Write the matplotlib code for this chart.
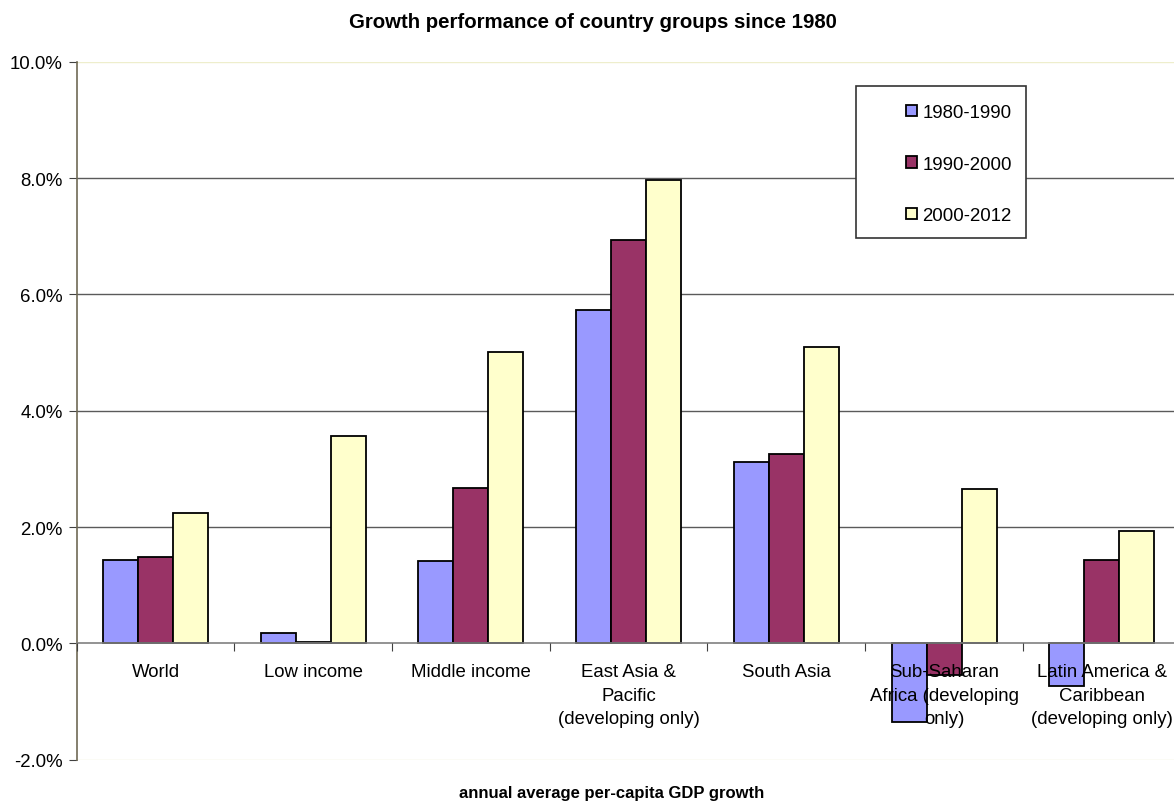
import numpy as np
import matplotlib.pyplot as plt
from matplotlib.patches import Rectangle

# Values (percent)
groups = ['World', 'Low income', 'Middle income',
          'East Asia &\nPacific\n(developing only)', 'South Asia',
          'Sub-Saharan\nAfrica (developing\nonly)',
          'Latin America &\nCaribbean\n(developing only)']
periods = ['1980-1990', '1990-2000', '2000-2012']
g_1980_1990 = [1.43, 0.17, 1.42, 5.73, 3.12, -1.35, -0.73]
g_1990_2000 = [1.48, 0.02, 2.67, 6.94, 3.26, -0.55, 1.43]
g_2000_2012 = [2.25, 3.57, 5.01, 7.97, 5.10, 2.65, 1.93]
colors = ['#9999FF', '#993366', '#FFFFCC']
yticks = [-2, 0, 2, 4, 6, 8, 10]

plt.rcParams['font.family'] = ['Liberation Sans', 'DejaVu Sans']

fig = plt.figure(figsize=(11.74, 8.04), dpi=100)
ax = fig.add_axes([0.0653, 0.0539, 0.9403, 0.868])

x = np.arange(len(groups))
w = 0.222
series = [g_1980_1990, g_1990_2000, g_2000_2012]
handles = []
for i, vals in enumerate(series):
    b = ax.bar(x + (i - 1) * w, vals, width=w, color=colors[i],
               edgecolor='black', linewidth=1.3, zorder=2, label=periods[i])
    handles.append(b)

ax.set_xlim(-0.5, len(groups) - 0.5)
ax.set_ylim(-2, 10)
ax.set_yticks(yticks)
ax.set_yticklabels([f'{v:.1f}%' for v in yticks], fontsize=13.4)

# gridlines behind the bars
for v in [2, 4, 6, 8]:
    ax.axhline(v, color='#5a5a5a', linewidth=1, zorder=0.5)
ax.axhline(10, color='#eeeecc', linewidth=1, zorder=0.5)
ax.axhline(-2, color='#eeeecc', linewidth=1, zorder=0.5)

for s in ['top', 'right']:
    ax.spines[s].set_visible(False)
ax.spines['left'].set_color('#706a55')
ax.spines['left'].set_linewidth(1.2)
ax.spines['bottom'].set_position(('data', 0))
ax.spines['bottom'].set_color('#808080')
ax.spines['bottom'].set_linewidth(1.2)
ax.spines['bottom'].set_zorder(2.5)

ax.set_xticks(np.arange(len(groups) + 1) - 0.5, minor=False)
ax.set_xticklabels([])
ax.set_xticks(x, minor=True)
ax.set_xticklabels(groups, minor=True, fontsize=13.4, linespacing=1.5)
ax.tick_params(axis='x', which='major', direction='out', length=6,
               color='#404040')
ax.tick_params(axis='x', which='minor', length=0, pad=14.5)
ax.tick_params(axis='y', direction='out', length=6, color='#404040', pad=4)
ax.xaxis.set_zorder(3)

fig.text(593 / 1174, 1 - 22 / 804, 'Growth performance of country groups since 1980',
         ha='center', va='center', fontsize=14.7, fontweight='bold')
fig.text(612 / 1174, 1 - 794 / 804, 'annual average per-capita GDP growth',
         ha='center', va='center', fontsize=12, fontweight='bold')

# legend box
fig.patches.append(Rectangle((856 / 1174, 1 - 239 / 804), 170 / 1174, 152 / 804,
                             transform=fig.transFigure, facecolor='white',
                             edgecolor='#333333', linewidth=1.2, zorder=5))
leg = fig.legend(handles=handles, labels=periods, loc='center left',
                 bbox_to_anchor=(897 / 1174, 1 - 165 / 804), frameon=False,
                 fontsize=13.4, handlelength=0.55, handleheight=0.55,
                 handletextpad=0.3, labelspacing=1.85, borderpad=0)
leg.set_zorder(6)

fig.savefig('out.png', dpi=100)
